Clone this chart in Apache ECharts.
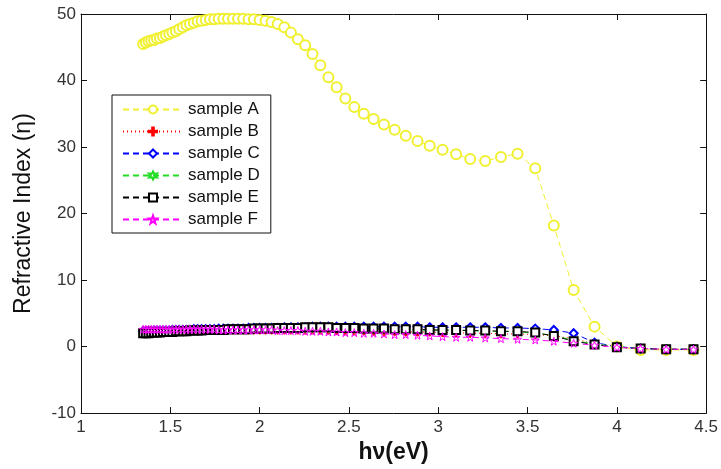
<!DOCTYPE html>
<html>
<head>
<meta charset="utf-8">
<script src="https://cdn.jsdelivr.net/npm/echarts@6/dist/echarts.min.js"></script>
<style>html,body{margin:0;padding:0;background:#fff}#c{width:721px;height:469px}</style>
</head>
<body>
<div id="c"></div>
<script>
// photon energy hν (eV)
const hv = [1.348,1.363,1.378,1.393,1.409,1.425,1.442,1.459,1.476,1.494,1.512,1.531,1.550,1.570,1.590,1.610,1.632,1.653,1.675,1.698,1.722,1.746,1.771,1.797,1.823,1.851,1.879,1.908,1.938,1.968,2.000,2.033,2.067,2.101,2.138,2.175,2.214,2.255,2.296,2.340,2.385,2.431,2.480,2.530,2.583,2.638,2.696,2.756,2.818,2.884,2.952,3.024,3.100,3.179,3.263,3.351,3.444,3.543,3.647,3.758,3.875,4.000,4.133,4.276,4.429];

const sampleA = [45.5,45.7,45.9,46.0,46.1,46.3,46.4,46.6,46.8,47.0, 47.2,47.4,47.7,48.0,48.3,48.5,48.7,48.9,49.0,49.1, 49.2,49.2,49.3,49.3,49.3,49.3,49.3,49.3,49.2,49.2, 49.1,49.0,48.8,48.5,48.0,47.2,46.2,45.3,44.0,42.3, 40.5,39.0,37.3,36.0,35.0,34.2,33.4,32.6,31.7,30.9, 30.2,29.6,28.9,28.2,27.9,28.5,29.0,26.8,18.2,8.5, 3.0,0.0,-0.5,-0.5,-0.5];
const sampleB = [2.4,2.4,2.4,2.4,2.4,2.4,2.4,2.4,2.4,2.4, 2.4,2.4,2.5,2.5,2.5,2.5,2.5,2.5,2.5,2.5, 2.5,2.5,2.5,2.5,2.5,2.5,2.5,2.5,2.5,2.5, 2.5,2.5,2.5,2.5,2.5,2.5,2.5,2.5,2.5,2.5, 2.5,2.4,2.4,2.4,2.4,2.3,2.3,2.3,2.2,2.2, 2.2,2.1,2.1,2.0,2.0,1.9,1.9,1.8,1.6,1.2, 0.4,0.0,-0.3,-0.4,-0.4];
const sampleC = [2.3,2.3,2.3,2.3,2.4,2.4,2.4,2.4,2.4,2.4, 2.5,2.5,2.5,2.5,2.5,2.5,2.6,2.6,2.6,2.6, 2.6,2.6,2.7,2.7,2.7,2.7,2.7,2.7,2.8,2.8, 2.8,2.8,2.8,2.8,2.9,2.9,2.9,2.9,3.0,3.0, 3.0,3.0,3.0,3.0,3.0,3.0,3.0,3.0,3.0,3.0, 2.9,2.9,2.9,2.9,2.9,2.8,2.8,2.7,2.5,2.0, 0.6,0.0,-0.3,-0.4,-0.4];
const sampleD = [2.2,2.2,2.2,2.2,2.3,2.3,2.3,2.3,2.3,2.3, 2.4,2.4,2.4,2.4,2.4,2.4,2.5,2.5,2.5,2.5, 2.5,2.5,2.5,2.6,2.6,2.6,2.6,2.6,2.6,2.6, 2.7,2.7,2.7,2.7,2.7,2.7,2.7,2.7,2.7,2.7, 2.7,2.7,2.7,2.6,2.6,2.6,2.6,2.6,2.5,2.5, 2.5,2.4,2.4,2.4,2.3,2.3,2.2,2.0,1.7,0.9, 0.4,0.0,-0.3,-0.4,-0.4];
const sampleE = [2.0,2.0,2.0,2.1,2.1,2.1,2.1,2.2,2.2,2.2, 2.2,2.3,2.3,2.3,2.3,2.4,2.4,2.4,2.4,2.5, 2.5,2.5,2.5,2.5,2.6,2.6,2.6,2.6,2.6,2.7, 2.7,2.7,2.7,2.8,2.8,2.8,2.8,2.9,2.9,2.9, 2.9,2.8,2.8,2.8,2.7,2.7,2.7,2.6,2.6,2.6, 2.5,2.5,2.5,2.4,2.4,2.3,2.3,2.1,1.6,0.8, 0.3,-0.1,-0.3,-0.4,-0.4];
const sampleF = [2.6,2.6,2.6,2.6,2.6,2.6,2.6,2.6,2.6,2.6, 2.6,2.6,2.6,2.6,2.6,2.6,2.6,2.6,2.6,2.6, 2.6,2.6,2.5,2.5,2.5,2.5,2.5,2.5,2.5,2.5, 2.5,2.5,2.5,2.4,2.4,2.4,2.4,2.3,2.3,2.3, 2.2,2.2,2.1,2.1,2.0,2.0,1.9,1.8,1.8,1.7, 1.6,1.5,1.4,1.4,1.3,1.2,1.1,1.0,0.8,0.5, 0.2,-0.1,-0.3,-0.4,-0.4];

const seriesNames = ['sample A','sample B','sample C','sample D','sample E','sample F'];
const xTicks = [1, 1.5, 2, 2.5, 3, 3.5, 4, 4.5];
const yTicks = [-10, 0, 10, 20, 30, 40, 50];

const pair = arr => hv.map((x, i) => [x, arr[i]]);
const plusPath = 'path://M4,0 H6 V4 H10 V6 H6 V10 H4 V6 H0 V4 H4 Z';
const starPath = 'path://M0,-10 L2.35,-3.24 L9.51,-3.09 L3.8,1.24 L5.88,8.09 L0,4 L-5.88,8.09 L-3.8,1.24 L-9.51,-3.09 L-2.35,-3.24 Z';
const hexPath = 'path://M0,-10 L2.5,-4.33 L8.66,-5 L5,0 L8.66,5 L2.5,4.33 L0,10 L-2.5,4.33 L-8.66,5 L-5,0 L-8.66,-5 L-2.5,-4.33 Z';

function mk(name, data, color, symbol, size, dash, fill) {
  const s = {
    name, type: 'line', data: pair(data), xAxisIndex: 0, yAxisIndex: 0,
    symbol, symbolSize: size, showSymbol: true, showAllSymbol: true,
    color: color,
    lineStyle: { color, width: 1, type: dash },
    emphasis: { disabled: true }
  };
  if (fill !== undefined) {
    s.itemStyle = { color: fill, borderColor: color, borderWidth: 1 };
  }
  return s;
}

const chart = echarts.init(document.getElementById('c'), null, { renderer: 'canvas' });
const axisCommon = {
  type: 'value',
  axisLine: { show: true, onZero: false, lineStyle: { color: '#111', width: 1 } },
  axisTick: { show: true, inside: true, length: 6, lineStyle: { color: '#111' } },
  splitLine: { show: false }
};
chart.setOption({
  animation: false,
  backgroundColor: '#fff',
  grid: { left: 81, right: 10, top: 14, bottom: 52 },
  legend: {
    orient: 'vertical', left: 112, top: 95,
    data: seriesNames,
    itemWidth: 60, itemHeight: 10, itemGap: 5,
    padding: [6, 11, 5, 10],
    borderColor: '#111', borderWidth: 1, backgroundColor: '#fff',
    textStyle: { fontFamily: 'Liberation Sans, Arial', fontSize: 17, lineHeight: 17, color: '#111' }
  },
  xAxis: [
    Object.assign({}, axisCommon, {
      position: 'bottom', min: xTicks[0], max: xTicks[xTicks.length - 1], interval: 0.5,
      name: 'hν(eV)', nameLocation: 'middle', nameGap: 24,
      nameTextStyle: { fontFamily: 'Liberation Sans, Arial', fontSize: 23, fontWeight: 'bold', color: '#111' },
      axisLabel: { show: true, margin: 6, fontFamily: 'Liberation Sans, Arial', fontSize: 17, color: '#333' }
    }),
    Object.assign({}, axisCommon, {
      position: 'top', min: xTicks[0], max: xTicks[xTicks.length - 1], interval: 0.5,
      axisLabel: { show: false }
    })
  ],
  yAxis: [
    Object.assign({}, axisCommon, {
      position: 'left', min: yTicks[0], max: yTicks[yTicks.length - 1], interval: 10,
      name: 'Refractive Index (η)', nameLocation: 'middle', nameGap: 46, nameRotate: 90,
      nameTextStyle: { fontFamily: 'Liberation Sans, Arial', fontSize: 23, color: '#111' },
      axisLabel: { show: true, margin: 5, fontFamily: 'Liberation Sans, Arial', fontSize: 17, color: '#333' }
    }),
    Object.assign({}, axisCommon, {
      position: 'right', min: yTicks[0], max: yTicks[yTicks.length - 1], interval: 10,
      axisLabel: { show: false }
    })
  ],
  series: [
    mk('sample A', sampleA, '#f0f030', 'emptyCircle', 10, [6, 4]),
    mk('sample B', sampleB, '#ff0000', plusPath, 8, [1, 3], '#ff0000'),
    mk('sample C', sampleC, '#0000ff', 'emptyDiamond', 8, [6, 4]),
    mk('sample D', sampleD, '#22dd22', hexPath, 8, [6, 4], 'rgba(0,0,0,0)'),
    mk('sample E', sampleE, '#000000', 'emptyRect', 8, [6, 4]),
    mk('sample F', sampleF, '#ff00ff', starPath, 8, [6, 4], 'rgba(0,0,0,0)')
  ]
});
</script>
</body>
</html>
